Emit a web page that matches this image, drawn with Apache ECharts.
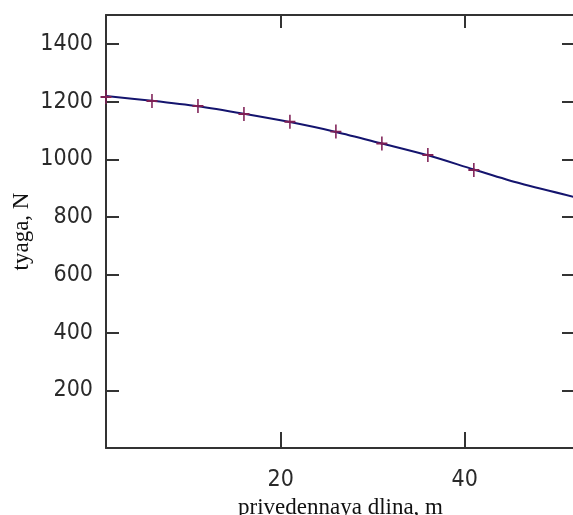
<!DOCTYPE html>
<html>
<head>
<meta charset="utf-8">
<script src="https://cdn.jsdelivr.net/npm/echarts@6/dist/echarts.min.js"></script>
<style>
  html, body { margin: 0; padding: 0; background: #fff; }
  #chart { width: 573px; height: 515px; }
</style>
</head>
<body>
<div id="chart"></div>
<script>
// данные
const curveX = [1, 6, 11, 16, 21, 26, 31, 36, 41, 46, 52];
const curveY = [1219, 1203, 1184, 1158, 1129, 1095, 1055, 1014, 965, 917, 869];
const pointX = [1, 6, 11, 16, 21, 26, 31, 36, 41];
const pointY = [1216, 1202, 1185, 1157, 1130, 1096, 1055, 1015, 963];
const xTicks = [20, 40];
const yTicks = [200, 400, 600, 800, 1000, 1200, 1400];

const chart = echarts.init(document.getElementById('chart'));

const axisCol = '#333';
const labelFont = { fontFamily: 'Liberation Sans Narrow, DejaVu Sans Condensed, sans-serif', fontSize: 23, color: '#2a2a2a' };
const nameFont = { fontFamily: 'Liberation Serif, serif', fontSize: 23, color: '#111' };

const plusPath = 'path://M4.3,0H5.7V4.3H10V5.7H5.7V10H4.3V5.7H0V4.3H4.3Z';

const option = {
  backgroundColor: '#fff',
  animation: false,
  grid: { left: 106, right: -2, top: 15, bottom: 67, outerBoundsMode: 'none', containLabel: false },
  xAxis: [{
    type: 'value', min: 1, max: 52, position: 'bottom',
    name: 'privedennaya dlina, m', nameLocation: 'middle', nameGap: 27,
    nameTextStyle: nameFont,
    axisLine: { show: true, lineStyle: { color: axisCol, width: 2 } },
    axisTick: { inside: true, length: 16, customValues: xTicks, lineStyle: { color: axisCol, width: 2 } },
    axisLabel: Object.assign({ customValues: xTicks, margin: 21, formatter: v => String(v) }, labelFont),
    splitLine: { show: false }
  }, {
    type: 'value', min: 1, max: 52, position: 'top',
    axisLine: { show: true, onZero: false, lineStyle: { color: axisCol, width: 2 } },
    axisTick: { inside: true, length: 13, customValues: xTicks, lineStyle: { color: axisCol, width: 2 } },
    axisLabel: { show: false },
    splitLine: { show: false }
  }],
  yAxis: [{
    type: 'value', min: 0, max: 1500, position: 'left',
    name: 'tyaga, N', nameLocation: 'middle', nameGap: 73, nameMoveOverlap: false,
    nameTextStyle: nameFont,
    axisLine: { show: true, lineStyle: { color: axisCol, width: 2 } },
    axisTick: { show: true, inside: true, length: 13, customValues: yTicks, lineStyle: { color: axisCol, width: 2 } },
    axisLabel: Object.assign({ customValues: yTicks, margin: 13, formatter: v => String(v) }, labelFont),
    splitLine: { show: false }
  }, {
    type: 'value', min: 0, max: 1500, position: 'right',
    axisLine: { show: true, onZero: false, lineStyle: { color: axisCol, width: 2 } },
    axisTick: { show: true, inside: true, length: 13, customValues: yTicks, lineStyle: { color: axisCol, width: 2 } },
    axisLabel: { show: false },
    splitLine: { show: false }
  }],
  series: [{
    type: 'line',
    data: curveX.map((x, i) => [x, curveY[i]]),
    smooth: 0.3,
    showSymbol: false,
    lineStyle: { color: '#14146e', width: 2 },
    z: 2
  }, {
    type: 'scatter',
    data: pointX.map((x, i) => [x, pointY[i]]),
    symbol: plusPath,
    symbolSize: [11, 14],
    symbolKeepAspect: false,
    itemStyle: { color: '#7e1f55', opacity: 1 },
    z: 3
  }]
};

chart.setOption(option);
</script>
</body>
</html>
